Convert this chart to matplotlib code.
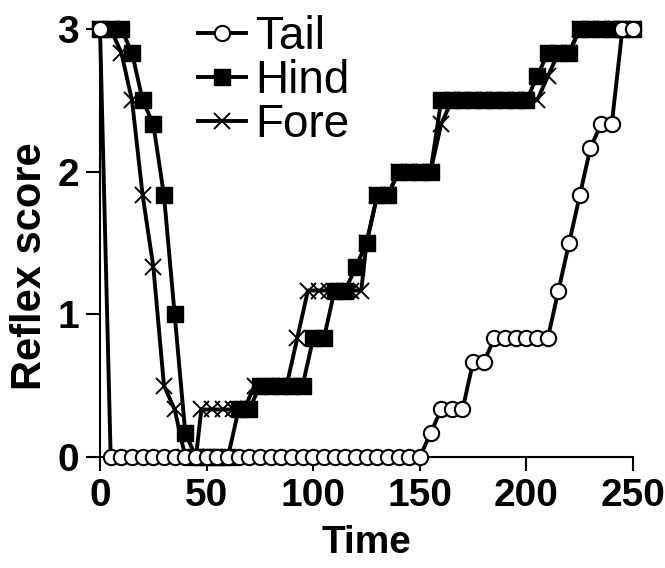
import matplotlib.pyplot as plt

plt.rcParams['font.family'] = ['Liberation Sans', 'DejaVu Sans']

# Tail reflex
tail_t = [0, 5, 10, 15, 20, 25, 30, 35, 40, 45, 50, 55, 60, 65, 70, 75, 80, 85,
          90, 95, 100, 105, 110, 115, 120, 125, 130, 135, 140, 145, 150,
          155, 160, 165, 170, 175, 180, 185, 190, 195, 200, 205, 210,
          215, 220, 225, 230, 235, 240, 245, 250]
tail_y = [3, 0, 0, 0, 0, 0, 0, 0, 0, 0, 0, 0, 0, 0, 0, 0, 0, 0,
          0, 0, 0, 0, 0, 0, 0, 0, 0, 0, 0, 0, 0,
          0.167, 0.333, 0.333, 0.333, 0.667, 0.667, 0.833, 0.833, 0.833, 0.833, 0.833, 0.833,
          1.167, 1.5, 1.833, 2.167, 2.333, 2.333, 3, 3]

# Hind reflex
hind_t = [0, 5, 10, 15, 20, 25, 30, 35, 40, 45, 50, 55, 60, 65, 70, 75, 80, 85,
          90, 95, 100, 105, 110, 115, 120, 125, 130, 135, 140, 145, 150, 155,
          160, 165, 170, 175, 180, 185, 190, 195, 200, 205, 210, 215, 220,
          225, 230, 235, 240, 245, 250]
hind_y = [3, 3, 3, 2.833, 2.5, 2.333, 1.833, 1.0, 0.167, 0, 0, 0, 0, 0.333, 0.333,
          0.5, 0.5, 0.5, 0.5, 0.5, 0.833, 0.833, 1.167, 1.167, 1.333, 1.5, 1.833, 1.833,
          2.0, 2.0, 2.0, 2.0, 2.5, 2.5, 2.5, 2.5, 2.5, 2.5, 2.5, 2.5, 2.5, 2.667,
          2.833, 2.833, 2.833, 3, 3, 3, 3, 3, 3]

# Fore reflex
fore_t = [0, 5, 10, 15, 20, 25, 30, 35, 40, 45, 47.5, 52.5, 57.5, 62.5, 67.5,
          72.5, 77.5, 82.5, 87.5, 92.5, 97.5, 102.5, 107.5, 112.5, 117.5, 122.5,
          125, 130, 135, 140, 145, 150, 155, 160, 165, 170, 175, 180, 185, 190,
          195, 200, 205, 210, 215, 220, 225, 230, 235, 240, 245, 250]
fore_y = [3, 3, 2.833, 2.5, 1.833, 1.333, 0.5, 0.333, 0, 0, 0.333, 0.333, 0.333, 0.333, 0.333,
          0.5, 0.5, 0.5, 0.5, 0.833, 1.167, 1.167, 1.167, 1.167, 1.167, 1.167,
          1.5, 1.833, 1.833, 2.0, 2.0, 2.0, 2.0, 2.333, 2.5, 2.5, 2.5, 2.5, 2.5, 2.5,
          2.5, 2.5, 2.5, 2.667, 2.833, 2.833, 3, 3, 3, 3, 3, 3]

fig = plt.figure(figsize=(6.65, 5.68), dpi=100)
ax = fig.add_axes([0.1504, 0.1954, 0.8016, 0.7536])

lw = 2.8
ax.plot(fore_t, fore_y, color='black', lw=lw, marker='x', ms=12, mew=1.4,
        label='Fore', clip_on=False, zorder=3)
ax.plot(hind_t, hind_y, color='black', lw=lw, marker='s', ms=11.5,
        label='Hind', clip_on=False, zorder=4)
ax.plot(tail_t, tail_y, color='black', lw=lw, marker='o', ms=11,
        mfc='white', mec='black', mew=1.5, label='Tail', clip_on=False, zorder=5)

ax.set_xlim(0, 250)
ax.set_ylim(0, 3)
ax.set_xticks([0, 50, 100, 150, 200, 250])
ax.set_yticks([0, 1, 2, 3])
ax.spines['top'].set_visible(False)
ax.spines['right'].set_visible(False)
for s in ['left', 'bottom']:
    ax.spines[s].set_linewidth(1.5)
ax.tick_params(width=1.5, length=10, pad=5, labelsize=28)
for lab in ax.get_xticklabels() + ax.get_yticklabels():
    lab.set_fontweight('bold')

ax.set_xlabel('Time', fontsize=28, fontweight='bold', labelpad=8)
ax.set_ylabel('Reflex score', fontsize=30, fontweight='bold')
ax.yaxis.set_label_coords(-0.094, 0.445)

handles, labels = ax.get_legend_handles_labels()
order = [2, 1, 0]
ax.legend([handles[i] for i in order], [labels[i] for i in order],
          loc='upper left', bbox_to_anchor=(0.15, 1.075), frameon=False,
          fontsize=33, handlelength=1.05, handletextpad=0.2, labelspacing=0.0,
          borderaxespad=0)

fig.savefig('out.png', dpi=100)
